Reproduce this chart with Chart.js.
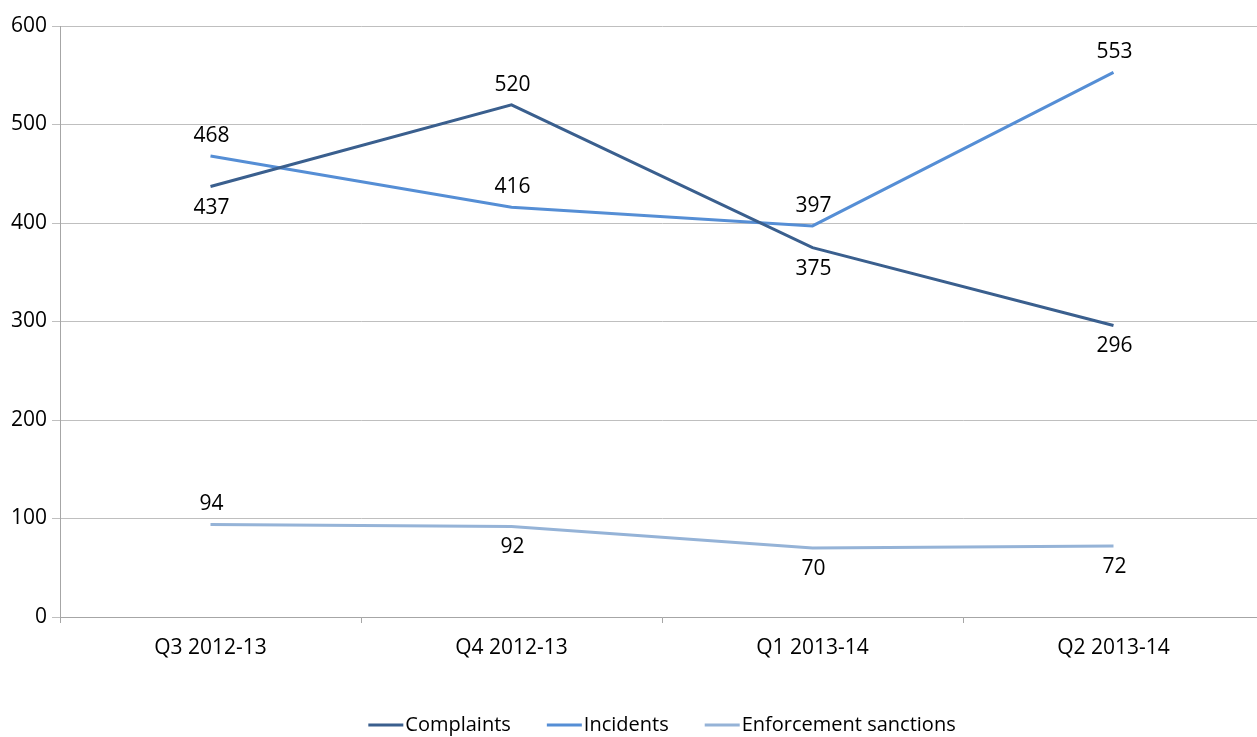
<!DOCTYPE html>
<html><head><meta charset="utf-8">
<script src="https://cdn.jsdelivr.net/npm/chart.js@4.4.0/dist/chart.umd.min.js"></script>
<style>html,body{margin:0;padding:0;background:#fff;overflow:hidden;}canvas{display:block;}</style>
</head><body>
<canvas id="c" width="1264" height="737"></canvas>
<script>
const categories = ["Q3 2012-13", "Q4 2012-13", "Q1 2013-14", "Q2 2013-14"];
const complaints = [437, 520, 375, 296];
const incidents = [468, 416, 397, 553];
const enforcement = [94, 92, 70, 72];
const yTicks = [0, 100, 200, 300, 400, 500, 600];

const labelSide = [
  ["below", "above", "below", "below"],
  ["above", "above", "above", "above"],
  ["above", "below", "below", "below"]
];

const FONT = "'Open Sans'";

const dataLabels = {
  id: "dataLabels",
  afterDatasetsDraw(chart) {
    const ctx = chart.ctx;
    ctx.save();
    ctx.font = "21px " + FONT;
    ctx.fillStyle = "#000";
    ctx.textAlign = "center";
    ctx.textBaseline = "middle";
    chart.data.datasets.forEach((ds, i) => {
      const meta = chart.getDatasetMeta(i);
      meta.data.forEach((pt, j) => {
        const dy = labelSide[i][j] === "above" ? -20 : 21;
        ctx.fillText(String(ds.data[j]), pt.x + 1, pt.y + dy);
      });
    });
    ctx.restore();
  }
};

const customLegend = {
  id: "customLegend",
  afterDraw(chart) {
    const ctx = chart.ctx;
    const area = chart.chartArea;
    ctx.save();
    ctx.font = "20px " + FONT;
    ctx.textBaseline = "middle";
    ctx.textAlign = "left";
    const lineLen = 35, lineGap = 2, itemGap = 36;
    const items = chart.data.datasets.map(ds => ({ text: ds.label, color: ds.borderColor, w: ctx.measureText(ds.label).width }));
    const total = items.reduce((s, it) => s + lineLen + lineGap + it.w, 0) + itemGap * (items.length - 1);
    let x = (area.left + area.right) / 2 - total / 2;
    const y = 725;
    items.forEach(it => {
      ctx.strokeStyle = it.color;
      ctx.lineWidth = 3;
      ctx.beginPath();
      ctx.moveTo(x, y);
      ctx.lineTo(x + lineLen, y);
      ctx.stroke();
      x += lineLen + lineGap;
      ctx.fillStyle = "#000";
      ctx.fillText(it.text, x, y);
      x += it.w + itemGap;
    });
    ctx.restore();
  }
};

new Chart(document.getElementById("c"), {
  type: "line",
  data: {
    labels: categories,
    datasets: [
      { label: "Complaints", data: complaints, borderColor: "#3A5F8E", backgroundColor: "#3A5F8E", borderWidth: 3, pointRadius: 0, tension: 0 },
      { label: "Incidents", data: incidents, borderColor: "#558ED5", backgroundColor: "#558ED5", borderWidth: 3, pointRadius: 0, tension: 0 },
      { label: "Enforcement sanctions", data: enforcement, borderColor: "#95B3D7", backgroundColor: "#95B3D7", borderWidth: 3, pointRadius: 0, tension: 0 }
    ]
  },
  options: {
    responsive: false,
    animation: false,
    layout: { padding: { top: 26, right: 0, left: 0, bottom: 0 } },
    plugins: {
      legend: { display: false },
      tooltip: { enabled: false }
    },
    scales: {
      x: {
        offset: true,
        afterFit(scale) { scale.height = 120; },
        grid: { display: true, drawOnChartArea: false, drawTicks: true, tickLength: 6, color: "#A6A6A6", offset: true },
        border: { color: "#A6A6A6" },
        ticks: { color: "#000", font: { family: FONT, size: 21 }, padding: 12, maxRotation: 0 }
      },
      y: {
        min: 0, max: 600,
        afterFit(scale) { scale.width = 60; },
        afterBuildTicks(scale) { scale.ticks = yTicks.map(v => ({ value: v })); },
        grid: { color: "#BFBFBF", tickLength: 8, lineWidth: 1 },
        border: { color: "#A6A6A6" },
        ticks: { color: "#000", font: { family: FONT, size: 21 }, padding: 5 }
      }
    }
  },
  plugins: [dataLabels, customLegend]
});
</script>
</body></html>
